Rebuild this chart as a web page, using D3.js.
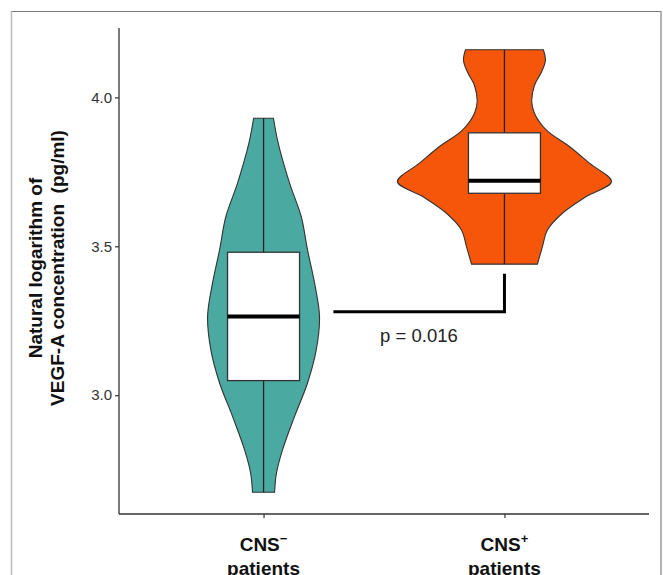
<!DOCTYPE html>
<html>
<head>
<meta charset="utf-8">
<script src="https://cdn.jsdelivr.net/npm/d3@7"></script>
<style>
  body { margin: 0; background: #fff; }
  text { font-family: "Liberation Sans", Arial, sans-serif; }
</style>
</head>
<body>
<div class="board"></div>
<script>

var groups = ['CNS-', 'CNS+'];
var groupColors = ['#4aa9a1', '#f6560a'];

// violin outlines: value -> relative density
var tealValues  = [3.930, 3.846, 3.712, 3.600, 3.488, 3.376, 3.264, 3.153, 3.041, 2.929, 2.817, 2.739, 2.674];
var tealDensity = [0.093, 0.137, 0.243, 0.352, 0.411, 0.477, 0.523, 0.493, 0.411, 0.290, 0.178, 0.121, 0.103];

var orangeValues  = [4.160, 4.125, 4.085, 4.040, 3.986, 3.947, 3.891, 3.835, 3.779, 3.717, 3.667, 3.611, 3.555, 3.499, 3.440];
var orangeDensity = [0.364, 0.383, 0.346, 0.280, 0.255, 0.280, 0.390, 0.607, 0.794, 1.000, 0.764, 0.542, 0.402, 0.355, 0.308];

// box stats: min, q1, median, q3, max
var tealBox   = [2.674, 3.049, 3.264, 3.480, 3.930];
var orangeBox = [3.440, 3.678, 3.720, 3.881, 4.160];

var yTicks = [3.0, 3.5, 4.0];

// significance bracket
var bracketFrom = 0.29;   // in category units
var bracketLow = 3.280;
var bracketHigh = 3.408;
var pLabel = 'p = 0.016';

var svg = d3.select('.board').append('svg')
            .attr('width', '663')
            .attr('height', '575');

// outer frame
svg.append('line').attr('x1', 11).attr('x2', 661).attr('y1', 11.5).attr('y2', 11.5)
   .attr('stroke', '#777').attr('stroke-width', 1.2);
svg.append('line').attr('x1', 11.5).attr('x2', 11.5).attr('y1', 11).attr('y2', 575)
   .attr('stroke', '#bbb').attr('stroke-width', 1.5);
svg.append('line').attr('x1', 661).attr('x2', 661).attr('y1', 11).attr('y2', 575)
   .attr('stroke', '#999').attr('stroke-width', 1.5);

var plotLeft = 119, plotRight = 649, plotTop = 28, plotBottom = 514;

var x = d3.scalePoint().domain(groups).range([plotLeft, plotRight]).padding(0.6);
var xi = d3.scaleLinear().domain([0, 1]).range([x(groups[0]), x(groups[1])]);
var y = d3.scaleLinear().domain([2.601, 4.233]).range([plotBottom, plotTop]);
var w = d3.scaleLinear().domain([0, 1]).range([0, 107]);

var violins = [
  {name: groups[0], values: tealValues, dens: tealDensity, box: tealBox, color: groupColors[0]},
  {name: groups[1], values: orangeValues, dens: orangeDensity, box: orangeBox, color: groupColors[1]}
];

var area = function(cx) {
  return d3.area()
           .y(function(d) { return y(d[0]); })
           .x0(function(d) { return cx - w(d[1]); })
           .x1(function(d) { return cx + w(d[1]); })
           .curve(d3.curveCatmullRom);
};

var boxHalf = 36;

violins.forEach(function(v) {
  var cx = x(v.name);
  var pts = v.values.map(function(val, i) { return [val, v.dens[i]]; });
  svg.append('path')
     .attr('d', area(cx)(pts) )
     .attr('fill', v.color)
     .attr('stroke', '#333')
     .attr('stroke-width', 1.1);

  // whisker
  svg.append('line')
     .attr('x1', cx).attr('x2', cx)
     .attr('y1', y(v.box[0])).attr('y2', y(v.box[4]))
     .attr('stroke', '#222').attr('stroke-width', 1.3);

  svg.append('rect')
     .attr('x', cx - boxHalf)
     .attr('y', y(v.box[3]))
     .attr('width', boxHalf * 2)
     .attr('height', y(v.box[1]) - y(v.box[3]))
     .attr('fill', '#fff')
     .attr('stroke', '#333')
     .attr('stroke-width', 1.3);

  svg.append('line')
     .attr('x1', cx - boxHalf).attr('x2', cx + boxHalf)
     .attr('y1', y(v.box[2])).attr('y2', y(v.box[2]))
     .attr('stroke', '#000').attr('stroke-width', 4);
});

// axes
var yAxis = svg.append('g')
               .attr('transform', 'translate(' + plotLeft + ',0)')
               .call(d3.axisLeft(y).tickValues(yTicks).tickFormat(d3.format('.1f')).tickSize(4).tickPadding(3));
yAxis.select('.domain').attr('d', 'M0,' + plotTop + 'V' + plotBottom).attr('stroke', '#333').attr('stroke-width', 1.3);
yAxis.selectAll('.tick line').attr('stroke', '#333').attr('stroke-width', 1.2);
yAxis.selectAll('.tick text').attr('font-size', 15).attr('fill', '#333').attr('font-family', '"Liberation Sans", Arial, sans-serif');

var xAxis = svg.append('g')
               .attr('transform', 'translate(0,' + plotBottom + ')')
               .call(d3.axisBottom(x).tickSize(4).tickFormat(''));
xAxis.select('.domain').attr('d', 'M' + plotLeft + ',0H' + plotRight).attr('stroke', '#333').attr('stroke-width', 1.3);
xAxis.selectAll('.tick line').attr('stroke', '#333').attr('stroke-width', 1.2);

// x labels
var labels = [['CNS', '\u2212'], ['CNS', '+']];
groups.forEach(function(g, i) {
  var t = svg.append('text')
             .attr('x', x(g))
             .attr('y', 551)
             .attr('text-anchor', 'middle')
             .attr('font-size', 19)
             .attr('font-weight', 'bold')
             .attr('fill', '#111');
  t.append('tspan').text(labels[i][0]);
  t.append('tspan').attr('dy', -8).attr('font-size', 13).text(labels[i][1]);
  svg.append('text')
     .attr('x', x(g))
     .attr('y', 575)
     .attr('text-anchor', 'middle')
     .attr('font-size', 19)
     .attr('font-weight', 'bold')
     .attr('fill', '#111')
     .text('patients');
});

// y title
var yTitle = svg.append('text')
                .attr('transform', 'translate(42,268) rotate(-90)')
                .attr('text-anchor', 'middle')
                .attr('font-size', 19)
                .attr('font-weight', 'bold')
                .attr('fill', '#111');
yTitle.append('tspan').attr('x', 0).attr('y', 0).text('Natural logarithm of');
yTitle.append('tspan').attr('x', 0).attr('y', 22).text('VEGF-A concentration\u00a0 (pg/ml)');

// bracket
svg.append('path')
   .attr('d', 'M' + xi(bracketFrom) + ',' + y(bracketLow) + 'H' + xi(1) + 'V' + y(bracketHigh))
   .attr('fill', 'none')
   .attr('stroke', '#000')
   .attr('stroke-width', 3);

svg.append('text')
   .attr('x', (xi(bracketFrom) + xi(1)) / 2)
   .attr('y', y(bracketLow) + 30)
   .attr('text-anchor', 'middle')
   .attr('font-size', 18.5)
   .attr('fill', '#222')
   .text(pLabel);

</script>
</body>
</html>
